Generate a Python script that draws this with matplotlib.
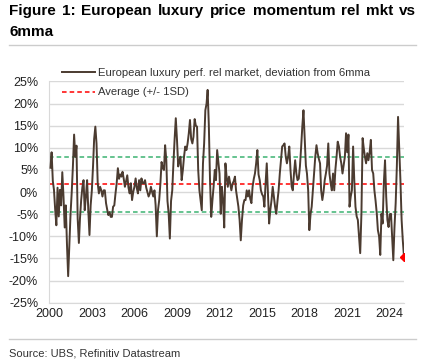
import pandas as pd
import matplotlib.pyplot as plt
import matplotlib.dates as mdates
import numpy as np


# monthly readings of the deviation from 6mma (%), Jan 2000 - Dec 2024
lux_2000s = [
    5.5, 9.0, 2.5, 0.5, -4.0, -7.5, 1.0, -5.5, 0.5, -3.0, 4.5, -1.0,       # 2000
    -8.0, -3.0, -12.0, -19.0, -12.0, -5.0, 0.0, 6.0, 13.0, 8.0, 10.5, -6.0,  # 2001
    -11.5, -6.0, -1.8, 1.0, 2.7, -4.1, -1.0, 2.7, -4.0, -9.7, -3.0, 0.4,   # 2002
    6.0, 12.0, 14.8, 11.0, 2.0, -0.3, 1.2, 0.4, -1.0, 0.4, 0.4, -2.5,      # 2003
    -4.0, -5.2, -4.5, -5.6, -5.6, -3.3, -3.0, -0.3, 2.0, 5.4, 3.0, 4.0,    # 2004
    3.5, 4.6, 3.0, 1.2, 2.5, 3.8, 1.0, -0.3, 2.0, -1.8, 0.0, 1.2,          # 2005
    3.1, 1.0, -0.3, 2.7, 0.4, 3.1, 2.0, 2.0, 2.7, 1.0, 0.0, -1.0,          # 2006
    -0.3, 1.2, 0.0, -1.0, 0.4, -3.0, -10.0, -4.0, -1.8, 2.0, 6.8, 5.4,     # 2007
    5.0, 10.6, 7.2, -2.0, -4.9, -10.5, -2.0, 0.4, 6.5, 12.0, 16.7, 11.8,   # 2008
    5.8, 7.0, 8.0, 2.7, 5.0, 8.0, 10.3, 9.5, 11.0, 13.3, 16.3, 12.0,       # 2009
]
lux_2010s = [
    11.0, 12.5, 16.5, 15.0, 14.8, 5.0, 0.4, -2.0, -4.1, 6.5, 11.0, 18.5,   # 2010
    20.0, 23.1, 15.0, 2.7, -5.6, -2.0, 1.2, 5.0, 2.7, 9.5, 7.0, 4.2,       # 2011
    -4.9, 1.2, -2.0, -8.0, 6.5, 3.5, 1.2, 3.5, 2.0, 0.4, 1.9, 2.5,         # 2012
    3.5, 0.4, -1.5, -3.3, -6.3, -10.9, -6.3, -3.0, -1.8, -1.8, 0.4, -1.0,  # 2013
    0.4, -1.5, -2.5, 1.2, 3.0, 4.2, 6.5, 9.5, 4.0, 2.7, 0.4, -0.5,         # 2014
    -1.0, -3.3, 2.0, 6.5, -0.3, -7.1, -4.0, -1.8, 1.2, -1.0, -3.3, -4.9,   # 2015
    -2.0, 0.4, 4.2, 7.2, 10.3, 10.6, 11.0, 8.0, 6.5, 8.0, 10.3, 5.0,       # 2016
    1.2, 0.4, 4.2, 7.2, 4.2, 2.7, 3.0, 5.8, 10.0, 14.8, 18.5, 12.5,        # 2017
    6.0, 4.2, 0.4, -8.6, -5.0, -3.3, 0.4, 4.0, 8.0, 10.6, 8.8, 7.5,        # 2018
    6.5, 0.4, -1.8, 0.0, 2.7, 4.2, 6.0, 11.0, 4.2, 2.0, 0.4, 4.2,          # 2019
]
lux_2020s = [
    0.4, 5.0, 8.0, 11.4, 10.3, 8.0, 6.5, 4.2, 6.0, 8.0, 13.3, 9.0,         # 2020
    13.0, -3.3, -1.0, 0.4, 10.3, 2.7, -3.3, -5.5, -6.3, -10.0, -13.8, -4.9,  # 2021
    12.2, 10.0, 8.0, 6.5, 8.8, 7.2, 9.0, 11.8, 5.0, 4.2, 0.4, -2.0,        # 2022
    -4.9, -8.6, -10.0, -14.2, -4.9, -7.1, 2.0, 7.2, -1.0, -6.3, -7.9, -5.0,  # 2023
    -4.9, -10.0, -15.4, -8.0, -2.5, 5.8, 17.0, 10.0, 2.7, -6.3, -10.9, -14.6,  # 2024
]
lux_dev = lux_2000s + lux_2010s + lux_2020s
dates = pd.date_range('2000-01-31', periods=len(lux_dev), freq='ME')

avg_dev = 1.8
upper_sd = 8.0
lower_sd = -4.45

y_ticks = [-25, -20, -15, -10, -5, 0, 5, 10, 15, 20, 25]
x_years = [2000, 2003, 2006, 2009, 2012, 2015, 2018, 2021, 2024]

title_line1 = 'Figure 1: European luxury price momentum rel mkt vs'
title_line2 = '6mma'

plt.rcParams['font.family'] = ['Liberation Sans', 'DejaVu Sans']

fig = plt.figure(figsize=(4.33, 3.63), dpi=100)
ax = fig.add_axes([0.1139, 0.1661, 0.933 - 0.1139, 0.7755 - 0.1661])

for t in y_ticks:
    ax.axhline(t, color='#d9d9d9', lw=1.0, zorder=0)

ax.axhline(upper_sd, color='#3cb371', lw=1.1, ls=(0, (3, 2)), zorder=2)
ax.axhline(lower_sd, color='#3cb371', lw=1.1, ls=(0, (3, 2)), zorder=2)
ax.axhline(avg_dev, color='#ff0000', lw=1.1, ls=(0, (3, 2)), zorder=2,
           label='Average (+/- 1SD)')
ax.plot(dates, lux_dev, color='#4b3b30', lw=1.4, zorder=3,
        label='European luxury perf. rel market, deviation from 6mma')
ax.plot(dates[-1:], lux_dev[-1:], marker='D', color='#ff0000', ms=4, zorder=4)

ax.set_ylim(-25, 25)
ax.set_xlim(pd.Timestamp('2000-01-01'), pd.Timestamp('2024-12-31'))
ax.set_yticks(y_ticks)
ax.set_yticklabels([f'{t}%' for t in y_ticks])
ax.set_xticks([pd.Timestamp(f'{y}-01-01') for y in x_years])
ax.xaxis.set_major_formatter(mdates.DateFormatter('%Y'))
ax.tick_params(length=0, labelsize=9, colors='#222222')
ax.tick_params(axis='y', pad=8)
ax.tick_params(axis='x', pad=4)
for side in ['top', 'right']:
    ax.spines[side].set_visible(False)
for side in ['left', 'bottom']:
    ax.spines[side].set_color('#d9d9d9')

h, l = ax.get_legend_handles_labels()
fig.legend(h[::-1], l[::-1], loc='upper left', bbox_to_anchor=(0.143, 0.813),
           frameon=False, fontsize=8.1, handlelength=2.9, handletextpad=0.3,
           labelspacing=0.85, borderaxespad=0, borderpad=0, labelcolor='#333333')

# justified title, first line spread from x=9px to x=416px
renderer = fig.canvas.get_renderer()
words = title_line1.split(' ')
texts = [fig.text(0, 0.970, w, fontsize=11, fontweight='bold', va='center', ha='left')
         for w in words]
widths = [t.get_window_extent(renderer).width for t in texts]
x0, x1 = 9.0, 416.0
gap = (x1 - x0 - sum(widths)) / (len(words) - 1)
x = x0
for t, w in zip(texts, widths):
    t.set_x(x / 433)
    x += w + gap
fig.text(9 / 433, 0.911, title_line2, fontsize=11, fontweight='bold',
         va='center', ha='left')

fig.add_artist(plt.Line2D([0.021, 0.961], [0.876, 0.876], color='#cccccc', lw=1))
fig.add_artist(plt.Line2D([0.021, 0.961], [0.066, 0.066], color='#cccccc', lw=1))
fig.text(0.021, 0.027, 'Source: UBS, Refinitiv Datastream', fontsize=8,
         color='#333333', va='center', ha='left')

fig.savefig('out.png', dpi=100)
